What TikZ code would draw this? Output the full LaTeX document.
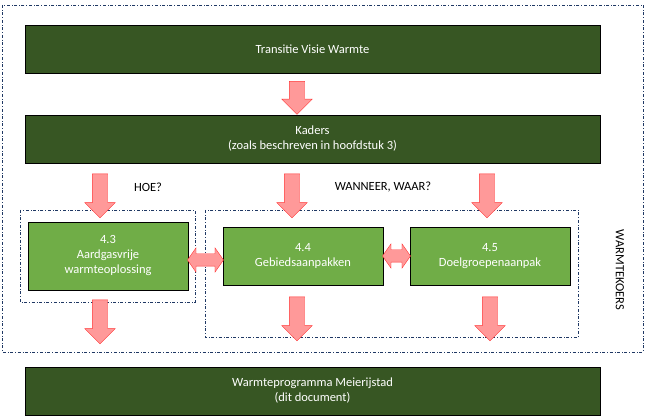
\documentclass[tikz,border=0pt]{standalone}
\usepackage{fontspec}
\setmainfont{Carlito}
\usetikzlibrary{shapes.arrows, positioning, calc}
\definecolor{darkgreen}{HTML}{375623}
\definecolor{lightgreen}{HTML}{70AD47}
\definecolor{frame}{HTML}{1F3864}
\tikzset{
	every node/.style={
		align=center,
	},
	bar/.style={draw=black, fill=darkgreen, text=white, minimum width=575pt, minimum height=48pt, font=\fontsize{12.5}{15}\selectfont},
	chapter/.style={draw=black, fill=lightgreen, text=white, minimum width=160pt, minimum height=58pt, font=\fontsize{12.5}{15}\selectfont},
	down/.style={single arrow, draw=red!80, fill=red!40, shape border rotate=270, inner sep=7.5pt, single arrow head extend=7.5pt, minimum height=#1},
	both/.style={double arrow, draw=red!80, fill=red!40, inner sep=6pt, double arrow head extend=6pt, double arrow tip angle=110, minimum height=#1},
	group/.style={draw=frame, dash dot},
}
\begin{document}
\begin{tikzpicture}[x=1pt, y=-1pt]
        \useasboundingbox (0,0) rectangle (646,419);
        \draw[group] (2,5) rectangle (643,352);
        \draw[group] (20,210) rectangle (195,302);
        \draw[group] (205,210) rectangle (578,337);
        
        \node[bar] (visie) at (312.5,49){Transitie Visie Warmte};
        \node[bar] (kaders) at (312.5,139){Kaders\\(zoals beschreven in hoofdstuk 3)};
        \node[bar] (programma) at (312.5,391){Warmteprogramma Meierijstad\\(dit document)};
        
        \node[chapter, minimum height=68pt] (aardgas) at (108,256){4.3\\Aardgasvrije\\warmteoplossing};
        \node[chapter] (gebied) at (303,256){4.4\\Gebiedsaanpakken};
        \node[chapter] (doelgroep) at (490,256){4.5\\Doelgroepenaanpak};
        
        \node[font=\fontsize{12.5}{15}\selectfont] (hoe) at (148,187){HOE?};
        \node[font=\fontsize{12.5}{15}\selectfont] (wanneer) at (383,187){WANNEER, WAAR?};
        \node[rotate=-90, font=\fontsize{12.5}{15}\selectfont] (koers) at (620,270){WARMTEKOERS};
        
        \node[down=33pt] (a1) at (297,94){};
        \node[down=44pt] (a2) at (100,192){};
        \node[down=44pt] (a3) at (292,192){};
        \node[down=44pt] (a4) at (487,192){};
        \node[down=44pt] (a5) at (100,318){};
        \node[down=44pt] (a6) at (297,315){};
        \node[down=44pt] (a7) at (490,315){};
        
        \node[both=36pt] (d1) at ($(aardgas.east)!0.5!(gebied.west)+(0,4)$){};
        \node[both=28pt] (d2) at ($(gebied.east)!0.5!(doelgroep.west)$){};
    \end{tikzpicture}
\end{document}
